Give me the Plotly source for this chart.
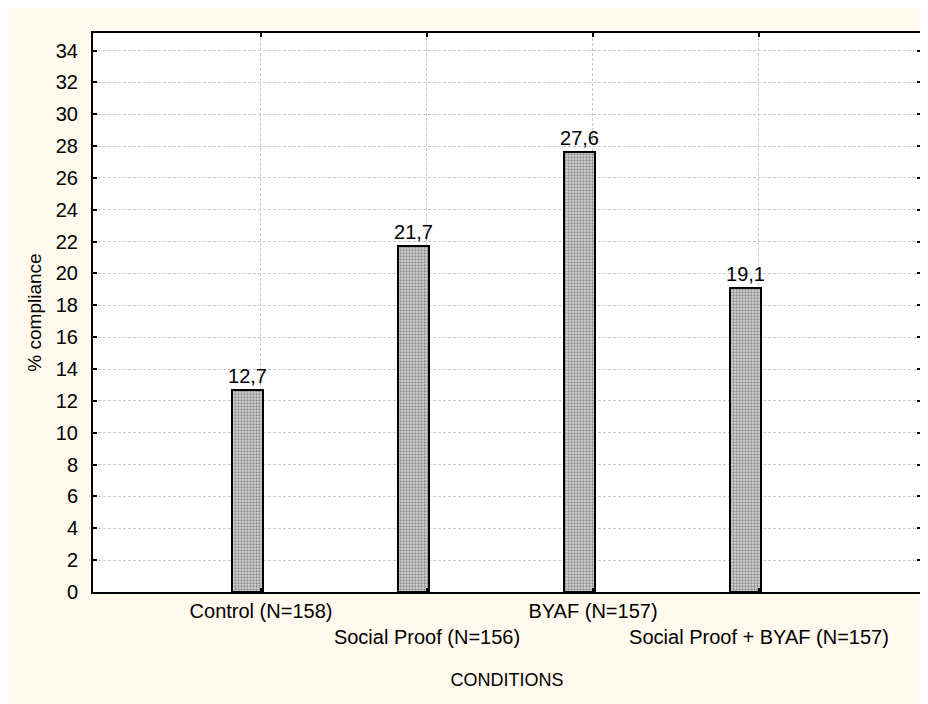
import plotly.graph_objects as go

categories = ["Control (N=158)", "Social Proof (N=156)", "BYAF (N=157)", "Social Proof + BYAF (N=157)"]
compliance = [12.7, 21.7, 27.6, 19.1]
positions = [1, 2, 3, 4]
tick_labels = [c if i % 2 == 0 else "<br>" + c for i, c in enumerate(categories)]
value_labels = [f"{v:.1f}".replace(".", ",") for v in compliance]

FONT = "Liberation Sans, Arial, sans-serif"

fig = go.Figure()
fig.add_trace(go.Bar(
    x=positions,
    y=compliance,
    width=0.188,
    offset=-0.176,
    text=value_labels,
    textposition="outside",
    constraintext="none",
    textfont=dict(size=20, color="black", family=FONT),
    cliponaxis=False,
    marker=dict(
        color="#c4c4c4",
        line=dict(color="black", width=2),
        pattern=dict(shape=".", size=3, solidity=0.45, fgcolor="#8a8a8a", bgcolor="#d6d6d6", fillmode="replace"),
    ),
    showlegend=False,
))

# page body has an 8px margin, so the figure is shifted by (8, 8)
fig.update_layout(
    width=920, height=696,
    margin=dict(l=85, r=7, t=25, b=112),
    paper_bgcolor="white",
    plot_bgcolor="white",
    font=dict(family=FONT, size=18, color="black"),
    bargap=0,
    shapes=[
        dict(type="rect", xref="paper", yref="paper", x0=-0.11, x1=1.0036, y0=-0.25, y1=1.06,
             fillcolor="#FFF9EE", line=dict(width=0), layer="below"),
        dict(type="rect", xref="paper", yref="paper", x0=0, x1=1, y0=0, y1=1,
             fillcolor="white", line=dict(width=0), layer="below"),
    ],
)

fig.update_xaxes(
    range=[-0.012, 4.976],
    tickvals=positions,
    ticktext=tick_labels,
    tickangle=0,
    tickfont=dict(size=20),
    ticks="inside", ticklen=4, tickwidth=1.5, tickcolor="black",
    showline=True, linecolor="black", linewidth=2, mirror="ticks",
    showgrid=True, gridcolor="#c8c8c8", griddash="3px,2px", gridwidth=1,
    zeroline=False,
    automargin=False,
    title=dict(text="CONDITIONS", font=dict(size=18), standoff=26),
)
fig.update_yaxes(
    range=[0, 35.1],
    dtick=2, tick0=0,
    tickfont=dict(size=20),
    ticks="inside", ticklen=4, tickwidth=1.5, tickcolor="black",
    ticklabelstandoff=9,
    showline=True, linecolor="black", linewidth=2, mirror="ticks",
    showgrid=True, gridcolor="#c8c8c8", griddash="3px,2px", gridwidth=1,
    zeroline=False,
    automargin=False,
    title=dict(text="% compliance", font=dict(size=19), standoff=9),
)

fig.write_html("out.html")
